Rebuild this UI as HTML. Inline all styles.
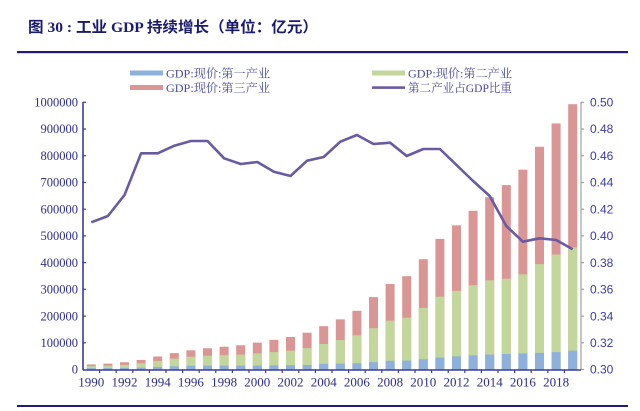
<!DOCTYPE html>
<html><head><meta charset="utf-8"><style>
html,body{margin:0;padding:0;background:#fff;}
svg{display:block;}
</style></head><body>
<svg width="640" height="411" viewBox="0 0 640 411" xmlns="http://www.w3.org/2000/svg">
<rect width="640" height="411" fill="#fff"/>
<!-- title -->
<text x="28" y="32" font-family="'Liberation Serif','Noto Sans CJK SC',serif" font-weight="bold" font-size="15" fill="#1a1a6e" textLength="290" lengthAdjust="spacingAndGlyphs">图 30 : 工业 GDP 持续增长（单位：亿元）</text>
<rect x="17" y="51" width="611" height="2.2" fill="#1e1e78"/>
<rect x="17" y="405" width="611" height="2" fill="#1e1e78"/>

<!-- legend -->
<g font-family="'Liberation Serif','Noto Serif CJK SC',serif" font-size="12" fill="#4a4a9a">
<rect x="130" y="70.5" width="33" height="5" fill="#8eb1dc"/>
<text x="166" y="77.5" textLength="104" lengthAdjust="spacingAndGlyphs">GDP:现价:第一产业</text>
<rect x="130" y="85" width="33" height="5" fill="#d99694"/>
<text x="166" y="92" textLength="104" lengthAdjust="spacingAndGlyphs">GDP:现价:第三产业</text>
<rect x="372" y="70.5" width="33" height="5" fill="#c3d69b"/>
<text x="408" y="77.5" textLength="104" lengthAdjust="spacingAndGlyphs">GDP:现价:第二产业</text>
<rect x="372" y="86.3" width="33" height="2.6" fill="#6a5aa2"/>
<text x="408" y="92" textLength="104" lengthAdjust="spacingAndGlyphs">第二产业占GDP比重</text>
</g>

<!-- bars -->
<g transform="translate(0,369.5) scale(1,-1)">
<g fill="#d99694">
<rect x="86.8" y="0" width="9" height="5.05"/>
<rect x="103.4" y="0" width="9" height="5.89"/>
<rect x="120.0" y="0" width="9" height="7.28"/>
<rect x="136.6" y="0" width="9" height="9.55"/>
<rect x="153.2" y="0" width="9" height="12.99"/>
<rect x="169.8" y="0" width="9" height="16.38"/>
<rect x="186.4" y="0" width="9" height="19.17"/>
<rect x="203.0" y="0" width="9" height="21.25"/>
<rect x="219.6" y="0" width="9" height="22.81"/>
<rect x="236.2" y="0" width="9" height="24.24"/>
<rect x="252.8" y="0" width="9" height="26.85"/>
<rect x="269.4" y="0" width="9" height="29.68"/>
<rect x="286.0" y="0" width="9" height="32.58"/>
<rect x="302.6" y="0" width="9" height="36.79"/>
<rect x="319.2" y="0" width="9" height="43.32"/>
<rect x="335.8" y="0" width="9" height="50.15"/>
<rect x="352.4" y="0" width="9" height="58.74"/>
<rect x="369.0" y="0" width="9" height="72.39"/>
<rect x="385.6" y="0" width="9" height="85.46"/>
<rect x="402.2" y="0" width="9" height="93.30"/>
<rect x="418.8" y="0" width="9" height="110.32"/>
<rect x="435.4" y="0" width="9" height="130.62"/>
<rect x="452.0" y="0" width="9" height="144.18"/>
<rect x="468.6" y="0" width="9" height="158.74"/>
<rect x="485.2" y="0" width="9" height="172.28"/>
<rect x="501.8" y="0" width="9" height="184.41"/>
<rect x="518.4" y="0" width="9" height="199.81"/>
<rect x="535.0" y="0" width="9" height="222.74"/>
<rect x="551.6" y="0" width="9" height="246.09"/>
<rect x="568.2" y="0" width="9" height="265.29"/>
</g>
<g fill="#c3d69b">
<rect x="86.8" y="0" width="9" height="3.42"/>
<rect x="103.4" y="0" width="9" height="3.86"/>
<rect x="120.0" y="0" width="9" height="4.69"/>
<rect x="136.6" y="0" width="9" height="6.25"/>
<rect x="153.2" y="0" width="9" height="8.52"/>
<rect x="169.8" y="0" width="9" height="10.85"/>
<rect x="186.4" y="0" width="9" height="12.71"/>
<rect x="203.0" y="0" width="9" height="13.78"/>
<rect x="219.6" y="0" width="9" height="14.36"/>
<rect x="236.2" y="0" width="9" height="14.89"/>
<rect x="252.8" y="0" width="9" height="16.16"/>
<rect x="269.4" y="0" width="9" height="17.44"/>
<rect x="286.0" y="0" width="9" height="18.82"/>
<rect x="302.6" y="0" width="9" height="21.33"/>
<rect x="319.2" y="0" width="9" height="25.48"/>
<rect x="335.8" y="0" width="9" height="29.42"/>
<rect x="352.4" y="0" width="9" height="34.18"/>
<rect x="369.0" y="0" width="9" height="41.31"/>
<rect x="385.6" y="0" width="9" height="48.83"/>
<rect x="402.2" y="0" width="9" height="51.87"/>
<rect x="418.8" y="0" width="9" height="61.59"/>
<rect x="435.4" y="0" width="9" height="72.77"/>
<rect x="452.0" y="0" width="9" height="78.63"/>
<rect x="468.6" y="0" width="9" height="84.32"/>
<rect x="485.2" y="0" width="9" height="89.12"/>
<rect x="501.8" y="0" width="9" height="90.78"/>
<rect x="518.4" y="0" width="9" height="95.19"/>
<rect x="535.0" y="0" width="9" height="105.39"/>
<rect x="551.6" y="0" width="9" height="115.00"/>
<rect x="568.2" y="0" width="9" height="122.24"/>
</g>
<g fill="#8eb1dc">
<rect x="86.8" y="0" width="9" height="1.34"/>
<rect x="103.4" y="0" width="9" height="1.42"/>
<rect x="120.0" y="0" width="9" height="1.55"/>
<rect x="136.6" y="0" width="9" height="1.84"/>
<rect x="153.2" y="0" width="9" height="2.54"/>
<rect x="169.8" y="0" width="9" height="3.21"/>
<rect x="186.4" y="0" width="9" height="3.72"/>
<rect x="203.0" y="0" width="9" height="3.82"/>
<rect x="219.6" y="0" width="9" height="3.91"/>
<rect x="236.2" y="0" width="9" height="3.89"/>
<rect x="252.8" y="0" width="9" height="3.94"/>
<rect x="269.4" y="0" width="9" height="4.15"/>
<rect x="286.0" y="0" width="9" height="4.33"/>
<rect x="302.6" y="0" width="9" height="4.54"/>
<rect x="319.2" y="0" width="9" height="5.60"/>
<rect x="335.8" y="0" width="9" height="5.84"/>
<rect x="352.4" y="0" width="9" height="6.24"/>
<rect x="369.0" y="0" width="9" height="7.41"/>
<rect x="385.6" y="0" width="9" height="8.69"/>
<rect x="402.2" y="0" width="9" height="8.99"/>
<rect x="418.8" y="0" width="9" height="10.29"/>
<rect x="435.4" y="0" width="9" height="11.99"/>
<rect x="452.0" y="0" width="9" height="13.14"/>
<rect x="468.6" y="0" width="9" height="14.20"/>
<rect x="485.2" y="0" width="9" height="14.89"/>
<rect x="501.8" y="0" width="9" height="15.47"/>
<rect x="518.4" y="0" width="9" height="16.10"/>
<rect x="535.0" y="0" width="9" height="16.62"/>
<rect x="551.6" y="0" width="9" height="17.33"/>
<rect x="568.2" y="0" width="9" height="18.86"/>
</g>
</g>

<!-- line -->
<polyline fill="none" stroke="#6a5aa2" stroke-width="2.6" stroke-linejoin="round" points="91.3,222.3 107.9,216 124.5,195 141.1,153.3 157.7,153.3 174.3,145.7 190.9,141 207.5,141 224.1,158.3 240.7,164 257.3,162 273.9,171.7 290.5,176 307.1,160.7 323.7,157 340.3,141.7 356.9,135 373.5,144 390.1,142.7 406.7,156 423.3,149 439.9,149 456.5,165 473.1,181 489.7,196 506.3,226 522.9,241.7 539.5,238.3 556.1,240 572.7,249.3"/>

<!-- left axis -->
<line x1="83" y1="102" x2="83" y2="370.3" stroke="#3c3c98" stroke-width="1.6"/>
<g stroke="#3c3c98" stroke-width="1.2">
<line x1="83" y1="102.3" x2="86" y2="102.3"/>
<line x1="83" y1="129.0" x2="86" y2="129.0"/>
<line x1="83" y1="155.7" x2="86" y2="155.7"/>
<line x1="83" y1="182.5" x2="86" y2="182.5"/>
<line x1="83" y1="209.2" x2="86" y2="209.2"/>
<line x1="83" y1="235.9" x2="86" y2="235.9"/>
<line x1="83" y1="262.6" x2="86" y2="262.6"/>
<line x1="83" y1="289.3" x2="86" y2="289.3"/>
<line x1="83" y1="316.1" x2="86" y2="316.1"/>
<line x1="83" y1="342.8" x2="86" y2="342.8"/>
</g>
<g font-family="'Liberation Serif',serif" font-size="12.5" fill="#2e2e88" text-anchor="end">
<text x="78" y="106.5">1000000</text>
<text x="78" y="133.2">900000</text>
<text x="78" y="159.9">800000</text>
<text x="78" y="186.7">700000</text>
<text x="78" y="213.4">600000</text>
<text x="78" y="240.1">500000</text>
<text x="78" y="266.8">400000</text>
<text x="78" y="293.5">300000</text>
<text x="78" y="320.3">200000</text>
<text x="78" y="347.0">100000</text>
<text x="78" y="373.7">0</text>
</g>

<!-- right axis -->
<line x1="581" y1="102" x2="581" y2="370" stroke="#a0a0a0" stroke-width="1.2"/>
<g stroke="#a0a0a0" stroke-width="1.2">
<line x1="581" y1="102.3" x2="584" y2="102.3"/>
<line x1="581" y1="129.0" x2="584" y2="129.0"/>
<line x1="581" y1="155.7" x2="584" y2="155.7"/>
<line x1="581" y1="182.5" x2="584" y2="182.5"/>
<line x1="581" y1="209.2" x2="584" y2="209.2"/>
<line x1="581" y1="235.9" x2="584" y2="235.9"/>
<line x1="581" y1="262.6" x2="584" y2="262.6"/>
<line x1="581" y1="289.3" x2="584" y2="289.3"/>
<line x1="581" y1="316.1" x2="584" y2="316.1"/>
<line x1="581" y1="342.8" x2="584" y2="342.8"/>
<line x1="581" y1="369.5" x2="584" y2="369.5"/>
</g>
<g font-family="'Liberation Sans',sans-serif" font-size="12" fill="#3b3ba5">
<text x="590" y="106.5">0.50</text>
<text x="590" y="133.2">0.48</text>
<text x="590" y="159.9">0.46</text>
<text x="590" y="186.7">0.44</text>
<text x="590" y="213.4">0.42</text>
<text x="590" y="240.1">0.40</text>
<text x="590" y="266.8">0.38</text>
<text x="590" y="293.5">0.36</text>
<text x="590" y="320.3">0.34</text>
<text x="590" y="347.0">0.32</text>
<text x="590" y="373.7">0.30</text>
</g>

<!-- x axis -->
<line x1="83" y1="370" x2="581" y2="370" stroke="#3c3c98" stroke-width="1.6"/>
<g stroke="#3c3c98" stroke-width="1.2">
<line x1="99.6" y1="370" x2="99.6" y2="373"/>
<line x1="116.2" y1="370" x2="116.2" y2="373"/>
<line x1="132.8" y1="370" x2="132.8" y2="373"/>
<line x1="149.4" y1="370" x2="149.4" y2="373"/>
<line x1="166.0" y1="370" x2="166.0" y2="373"/>
<line x1="182.6" y1="370" x2="182.6" y2="373"/>
<line x1="199.2" y1="370" x2="199.2" y2="373"/>
<line x1="215.8" y1="370" x2="215.8" y2="373"/>
<line x1="232.4" y1="370" x2="232.4" y2="373"/>
<line x1="249.0" y1="370" x2="249.0" y2="373"/>
<line x1="265.6" y1="370" x2="265.6" y2="373"/>
<line x1="282.2" y1="370" x2="282.2" y2="373"/>
<line x1="298.8" y1="370" x2="298.8" y2="373"/>
<line x1="315.4" y1="370" x2="315.4" y2="373"/>
<line x1="332.0" y1="370" x2="332.0" y2="373"/>
<line x1="348.6" y1="370" x2="348.6" y2="373"/>
<line x1="365.2" y1="370" x2="365.2" y2="373"/>
<line x1="381.8" y1="370" x2="381.8" y2="373"/>
<line x1="398.4" y1="370" x2="398.4" y2="373"/>
<line x1="415.0" y1="370" x2="415.0" y2="373"/>
<line x1="431.6" y1="370" x2="431.6" y2="373"/>
<line x1="448.2" y1="370" x2="448.2" y2="373"/>
<line x1="464.8" y1="370" x2="464.8" y2="373"/>
<line x1="481.4" y1="370" x2="481.4" y2="373"/>
<line x1="498.0" y1="370" x2="498.0" y2="373"/>
<line x1="514.6" y1="370" x2="514.6" y2="373"/>
<line x1="531.2" y1="370" x2="531.2" y2="373"/>
<line x1="547.8" y1="370" x2="547.8" y2="373"/>
<line x1="564.4" y1="370" x2="564.4" y2="373"/>
</g>
<g font-family="'Liberation Serif',serif" font-size="13" fill="#2e2e88" text-anchor="middle">
<text x="91.3" y="386.5">1990</text>
<text x="124.5" y="386.5">1992</text>
<text x="157.7" y="386.5">1994</text>
<text x="190.9" y="386.5">1996</text>
<text x="224.1" y="386.5">1998</text>
<text x="257.3" y="386.5">2000</text>
<text x="290.5" y="386.5">2002</text>
<text x="323.7" y="386.5">2004</text>
<text x="356.9" y="386.5">2006</text>
<text x="390.1" y="386.5">2008</text>
<text x="423.3" y="386.5">2010</text>
<text x="456.5" y="386.5">2012</text>
<text x="489.7" y="386.5">2014</text>
<text x="522.9" y="386.5">2016</text>
<text x="556.1" y="386.5">2018</text>
</g>
</svg>
</body></html>
